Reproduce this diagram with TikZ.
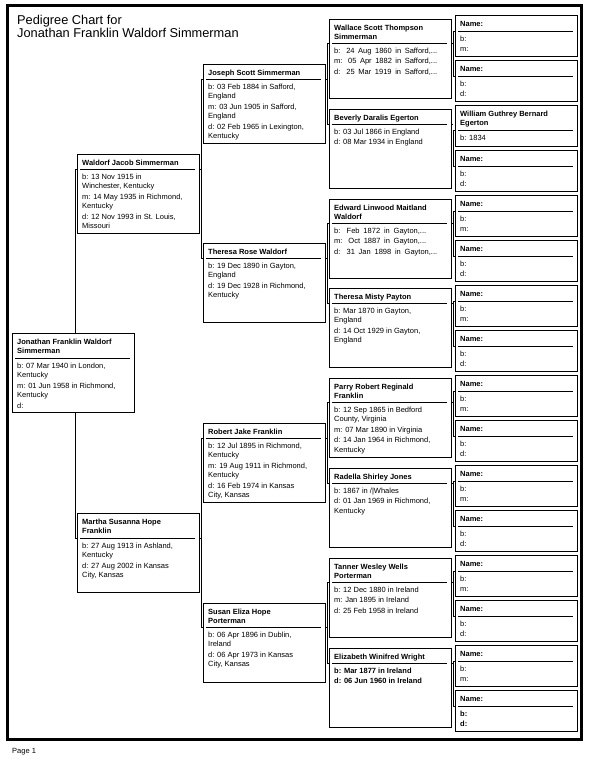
\documentclass[tikz,border=0pt]{standalone}
\usepackage{fontspec}
\setmainfont{Liberation Sans}
\pgfdeclarelayer{bg}
\pgfsetlayers{bg,main}
\tikzset{
  boxst/.style={draw, fill=white, line width=1pt, minimum width=122pt, inner sep=0pt, anchor=north west},
  txtst/.style={anchor=north west, inner sep=0pt, align=left, execute at begin node={\rule{0pt}{6pt}}},
  namest/.style={txtst, font=\fontsize{7.5}{9.5}\selectfont\bfseries},
  detst/.style={txtst, font=\fontsize{7.5}{9.5}\selectfont},
  sepst/.style={line width=0.9pt},
  conn/.style={line width=0.9pt},
  framest/.style={line width=3pt},
}
% id, x, y(top), height, separator offset, name, details
\newcommand\persbox[7]{%
  \node[boxst, minimum height=#4pt] (#1) at (#2,#3) {};
  \node[namest] (#1n) at (#2+5,#3+5.5) {#6};
  \draw[sepst] (#2+3,#3+#5) -- (#2+118,#3+#5);
  \coordinate (#1l) at (#2,#3+#5);
  \coordinate (#1r) at (#2+122,#3+#5);
  \node[detst] (#1d) at (#2+5,#3+#5+4.5) {#7};
}
% child, father, mother, name of vertical
\newcommand\famlink[4]{%
  \draw[conn] (#2l) -- ++(-2,0) coordinate (#4) |- (#3l);
  \draw[conn] (#1r) -- (#4 |- #1r);
}
\begin{document}
\begin{tikzpicture}[x=1pt,y=-1pt]
\useasboundingbox (0,0) rectangle (591,759);
\draw[framest] (7,6) rectangle (581,739);
\node[anchor=north west, inner sep=0pt, align=left, font=\fontsize{12.8}{13}\selectfont, execute at begin node={\rule{0pt}{10pt}}] (title) at (17,15) {Pedigree Chart for\\Jonathan Franklin Waldorf Simmerman};
\node[anchor=base west, inner sep=0pt, font=\fontsize{7.5}{9}\selectfont] (page) at (12,753) {Page 1};

% generation 1
\persbox{p1}{12}{333}{79}{25}{Jonathan Franklin Waldorf\\Simmerman}{b: 07 Mar 1940 in London,\\Kentucky\\[1pt]m: 01 Jun 1958 in Richmond,\\Kentucky\\[1pt]d:}
% generation 2
\persbox{p2}{77}{154}{79}{15}{Waldorf Jacob Simmerman}{b: 13 Nov 1915 in\\Winchester, Kentucky\\[1pt]m: 14 May 1935 in Richmond,\\Kentucky\\[1pt]d: 12 Nov 1993 in St. Louis,\\Missouri}
\persbox{p3}{77}{513}{79}{25}{Martha Susanna Hope\\Franklin}{b: 27 Aug 1913 in Ashland,\\Kentucky\\[1pt]d: 27 Aug 2002 in Kansas\\City, Kansas}
% generation 3
\persbox{p4}{203}{64}{79}{15}{Joseph Scott Simmerman}{b: 03 Feb 1884 in Safford,\\England\\[1pt]m: 03 Jun 1905 in Safford,\\England\\[1pt]d: 02 Feb 1965 in Lexington,\\Kentucky}
\persbox{p5}{203}{243}{79}{15}{Theresa Rose Waldorf}{b: 19 Dec 1890 in Gayton,\\England\\[1pt]d: 19 Dec 1928 in Richmond,\\Kentucky}
\persbox{p6}{203}{423}{79}{15}{Robert Jake Franklin}{b: 12 Jul 1895 in Richmond,\\Kentucky\\[1pt]m: 19 Aug 1911 in Richmond,\\Kentucky\\[1pt]d: 16 Feb 1974 in Kansas\\City, Kansas}
\persbox{p7}{203}{603}{79}{24}{Susan Eliza Hope\\Porterman}{b: 06 Apr 1896 in Dublin,\\Ireland\\[1pt]d: 06 Apr 1973 in Kansas\\City, Kansas}
% generation 4
\persbox{p8}{329}{19}{79}{24}{Wallace Scott Thompson\\Simmerman}{\makebox[103pt][s]{b: 24 Aug 1860 in Safford,...}\\[1pt]\makebox[103pt][s]{m: 05 Apr 1882 in Safford,...}\\[1pt]\makebox[103pt][s]{d: 25 Mar 1919 in Safford,...}}
\persbox{p9}{329}{109}{79}{15}{Beverly Daralis Egerton}{b: 03 Jul 1866 in England\\[1pt]d: 08 Mar 1934 in England}
\persbox{p10}{329}{199}{79}{24}{Edward Linwood Maitland\\Waldorf}{\makebox[92pt][s]{b: Feb 1872 in Gayton,...}\\[1pt]\makebox[92pt][s]{m: Oct 1887 in Gayton,...}\\[1pt]\makebox[103pt][s]{d: 31 Jan 1898 in Gayton,...}}
\persbox{p11}{329}{288}{79}{15}{Theresa Misty Payton}{b: Mar 1870 in Gayton,\\England\\[1pt]d: 14 Oct 1929 in Gayton,\\England}
\persbox{p12}{329}{378}{79}{24}{Parry Robert Reginald\\Franklin}{b: 12 Sep 1865 in Bedford\\County, Virginia\\[1pt]m: 07 Mar 1890 in Virginia\\[1pt]d: 14 Jan 1964 in Richmond,\\Kentucky}
\persbox{p13}{329}{468}{79}{15}{Radella Shirley Jones}{b: 1867 in /|Whales\\[1pt]d: 01 Jan 1969 in Richmond,\\Kentucky}
\persbox{p14}{329}{558}{79}{24}{Tanner Wesley Wells\\Porterman}{b: 12 Dec 1880 in Ireland\\[1pt]m: Jan 1895 in Ireland\\[1pt]d: 25 Feb 1958 in Ireland}
\persbox{p15}{329}{648}{79}{15}{Elizabeth Winifred Wright}{\textbf{b: Mar 1877 in Ireland}\\[1pt]\textbf{d: 06 Jun 1960 in Ireland}}
% generation 5
\persbox{q1}{455}{15}{41}{16}{Name:}{b:\\[1pt]m:}
\persbox{q2}{455}{60}{41}{16}{Name:}{b:\\[1pt]d:}
\persbox{q3}{455}{105}{41}{25}{William Guthrey Bernard\\Egerton}{b: 1834}
\persbox{q4}{455}{150}{41}{16}{Name:}{b:\\[1pt]d:}
\persbox{q5}{455}{195}{41}{16}{Name:}{b:\\[1pt]m:}
\persbox{q6}{455}{240}{41}{16}{Name:}{b:\\[1pt]d:}
\persbox{q7}{455}{285}{41}{16}{Name:}{b:\\[1pt]m:}
\persbox{q8}{455}{330}{41}{16}{Name:}{b:\\[1pt]d:}
\persbox{q9}{455}{375}{41}{16}{Name:}{b:\\[1pt]m:}
\persbox{q10}{455}{420}{41}{16}{Name:}{b:\\[1pt]d:}
\persbox{q11}{455}{465}{41}{16}{Name:}{b:\\[1pt]m:}
\persbox{q12}{455}{510}{41}{16}{Name:}{b:\\[1pt]d:}
\persbox{q13}{455}{555}{41}{16}{Name:}{b:\\[1pt]m:}
\persbox{q14}{455}{600}{41}{16}{Name:}{b:\\[1pt]d:}
\persbox{q15}{455}{645}{41}{16}{Name:}{b:\\[1pt]m:}
\persbox{q16}{455}{690}{41}{16}{Name:}{\textbf{b:}\\[1pt]\textbf{d:}}

\begin{pgfonlayer}{bg}
\famlink{p1}{p2}{p3}{v1}
\famlink{p2}{p4}{p5}{v2}
\famlink{p3}{p6}{p7}{v3}
\famlink{p4}{p8}{p9}{v4}
\famlink{p5}{p10}{p11}{v5}
\famlink{p6}{p12}{p13}{v6}
\famlink{p7}{p14}{p15}{v7}
\famlink{p8}{q1}{q2}{v8}
\famlink{p9}{q3}{q4}{v9}
\famlink{p10}{q5}{q6}{v10}
\famlink{p11}{q7}{q8}{v11}
\famlink{p12}{q9}{q10}{v12}
\famlink{p13}{q11}{q12}{v13}
\famlink{p14}{q13}{q14}{v14}
\famlink{p15}{q15}{q16}{v15}
\end{pgfonlayer}
\end{tikzpicture}
\end{document}
